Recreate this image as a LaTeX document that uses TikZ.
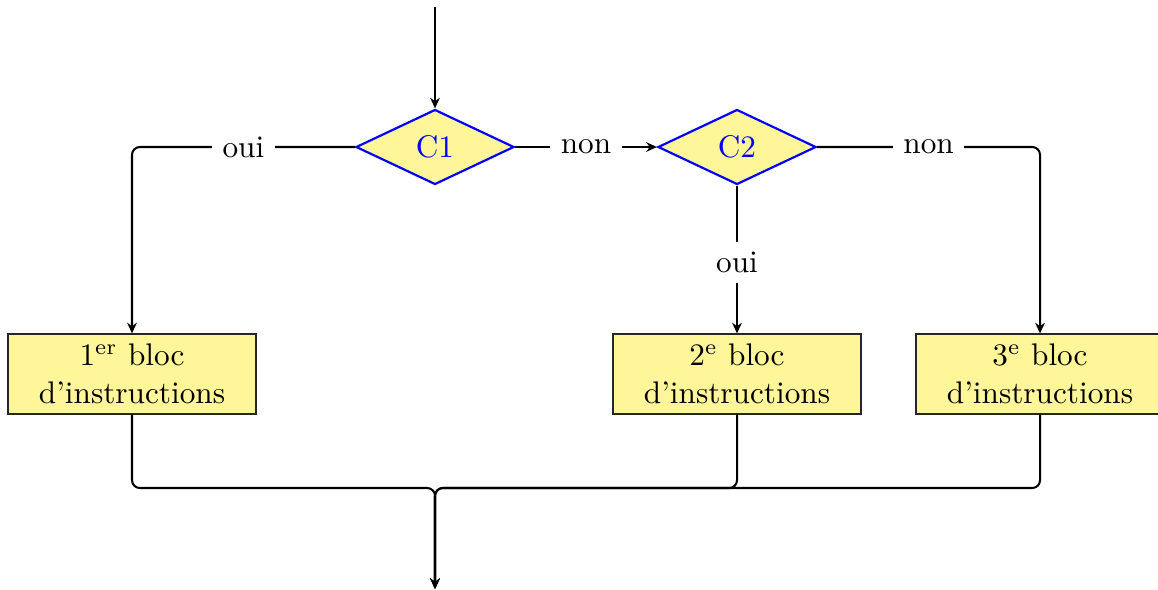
\documentclass[tikz,border=0pt]{standalone}
\usetikzlibrary{shapes.geometric,arrows.meta}
\definecolor{boxfill}{RGB}{255,246,153}
\begin{document}
\begin{tikzpicture}[x=0.32pt,y=-0.32pt,
  test/.style={diamond, draw=blue, line width=0.7pt, fill=boxfill, text=blue,
    minimum width=50.6pt, minimum height=24pt, inner sep=0pt, sharp corners},
  bloc/.style={rectangle, draw=black!85, thin, fill=boxfill, align=center,
    minimum width=79.4pt, minimum height=25.6pt, inner sep=0pt, sharp corners},
  lbl/.style={fill=white, sharp corners},
  flow/.style={line width=0.65pt, rounded corners=2.5pt,
    -{Stealth[length=3.4pt,width=3.1pt]}}]
\useasboundingbox (0,0) rectangle (1158,589);
\clip (0,0) rectangle (1158,589);

% tests
\node[test] (c1) at (435,147) {C1};
\node[test] (c2) at (737,147) {C2};

% instruction blocks
\node[bloc] (b1) at (132,374) {1\textsuperscript{er} bloc\\d’instructions};
\node[bloc] (b2) at (737,374) {2\textsuperscript{e} bloc\\d’instructions};
\node[bloc] (b3) at (1040,374) {3\textsuperscript{e} bloc\\d’instructions};

% entry and exit points
\coordinate (in) at (435,7);
\coordinate (merge) at (435,488);
\coordinate (out) at (435,589);

% branches
\draw[flow] (in) -- (c1.north);
\draw[flow] (c1.west) -- node[lbl] {oui} (c1.west -| b1) -- (b1.north);
\draw[flow] (c1.east) -- node[lbl] {non} (c2.west);
\draw[flow] (c2.south) -- node[lbl, pos=0.52] {oui} (b2.north);
\draw[flow] (c2.east) -- node[lbl] {non} (c2.east -| b3) -- (b3.north);

% merging towards the exit
\draw[flow] (b1.south) |- (merge) -- (out);
\draw[flow] (b2.south) |- (merge) -- (out);
\draw[flow] (b3.south) |- (merge) -- (out);
\end{tikzpicture}
\end{document}
